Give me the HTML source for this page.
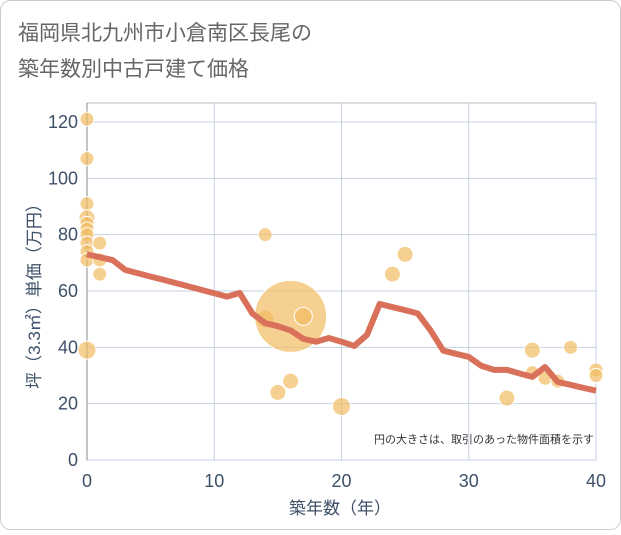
<!DOCTYPE html>
<html><head><meta charset="utf-8"><style>
body{margin:0;background:#fff;font-family:"Liberation Sans","Noto Sans CJK JP",sans-serif}
#wrap{position:relative;width:621px;height:530px}
</style></head><body>
<div id="wrap">
<svg width="621" height="530" xmlns="http://www.w3.org/2000/svg" font-family="Liberation Sans, Noto Sans CJK JP, sans-serif">
<rect x="0.5" y="0.5" width="620" height="529" rx="10" fill="#fff" stroke="#ccc"/>
<text x="18" y="40" font-size="21" fill="#666">福岡県北九州市小倉南区長尾の</text>
<text x="18" y="76" font-size="21" fill="#666">築年数別中古戸建て価格</text>
<g id="grid"></g>
<g id="marks"></g>
<text x="340" y="514" font-size="17" fill="#3d5068" text-anchor="middle">築年数（年）</text>
<text transform="translate(40,292) rotate(-90)" font-size="17" fill="#3d5068" text-anchor="middle">坪（3.3㎡）単価（万円）</text>
<text x="594" y="443" font-size="11" fill="#333" text-anchor="end">円の大きさは、取引のあった物件面積を示す</text>
</svg></div>
<script>
const xTicks=[0,10,20,30,40];
const yTicks=[0,20,40,60,80,100,120];
const lineYears=[0,1,2,3,4,5,6,7,8,9,10,11,12,13,14,15,16,17,18,19,20,21,22,23,24,25,26,27,28,29,30,31,32,33,34,35,36,37,38,39,40];
const lineValues=[73,72,71,67.5,66.3,65.1,64,62.8,61.6,60.4,59.2,58,59.3,52,48.6,47.5,46,43,42,43.3,42,40.5,44.4,55.4,54.3,53.2,52,46,38.8,37.7,36.6,33.4,32,32,30.7,29.5,33,27.7,26.7,25.6,24.6];
const ptYears=[0,0,0,0,0,0,0,0,0,0,0,1,1,1,14,14,16,17,16,15,20,24,25,33,35,35,36,37,38,40,40];
const ptValues=[121,107,91,86,84,82,80,77,74,71,39,77,71,66,80,50,51,51,28,24,19,66,73,22,39,31,29,28,40,32,30];
const ptRadius=[7,7,7,8,7,7,7,7,7,7,9,7,7,7,7,9,36,9,8,8,9,8,8,8,8,7,7,7,7,7,7];
const X0=87,X1=596,Y0=460,Y1=122;
const sx=v=>X0+(v-0)/40*(X1-X0);
const sy=v=>Y0-(v/120)*(Y0-Y1);
const NS="http://www.w3.org/2000/svg";
const grid=document.getElementById('grid'),marks=document.getElementById('marks');
function mk(tag,attrs,parent){const e=document.createElementNS(NS,tag);for(const k in attrs)e.setAttribute(k,attrs[k]);parent.appendChild(e);return e;}
mk('rect',{x:X0,y:103,width:X1-X0,height:Y0-103,fill:'none',stroke:'#bbb'},grid);
xTicks.forEach(t=>{
 const l=mk('line',{x1:sx(t),x2:sx(t),y1:103,y2:Y0,stroke:'#c5d2e0'},grid);
 
 
 const tx=mk('text',{x:sx(t),y:487,'font-size':18,fill:'#3d5068','text-anchor':'middle'},grid);tx.textContent=t;
 
 
});
yTicks.forEach(t=>{
 const l=mk('line',{x1:X0,x2:X1,y1:sy(t),y2:sy(t),stroke:'#c5d2e0'},grid);
 
 
 const tx=mk('text',{x:78,y:sy(t)+6,'font-size':18,fill:'#3d5068','text-anchor':'end'},grid);tx.textContent=t;
 
 
});
mk('line',{x1:X0,x2:X0,y1:103,y2:Y0,stroke:'#888'},grid);
ptYears.forEach((y,i)=>{
 const c=mk('circle',{cx:sx(y),cy:sy(ptValues[i]),r:ptRadius[i],fill:'#f2bc62','fill-opacity':0.7,stroke:'#fff','stroke-width':1},marks);
 
 
});
const p=mk('polyline',{points:lineYears.map((y,i)=>sx(y)+','+sy(lineValues[i])).join(' '),fill:'none',stroke:'#d9705a','stroke-width':6,'stroke-linejoin':'round'},marks);


</script>
</body></html>
